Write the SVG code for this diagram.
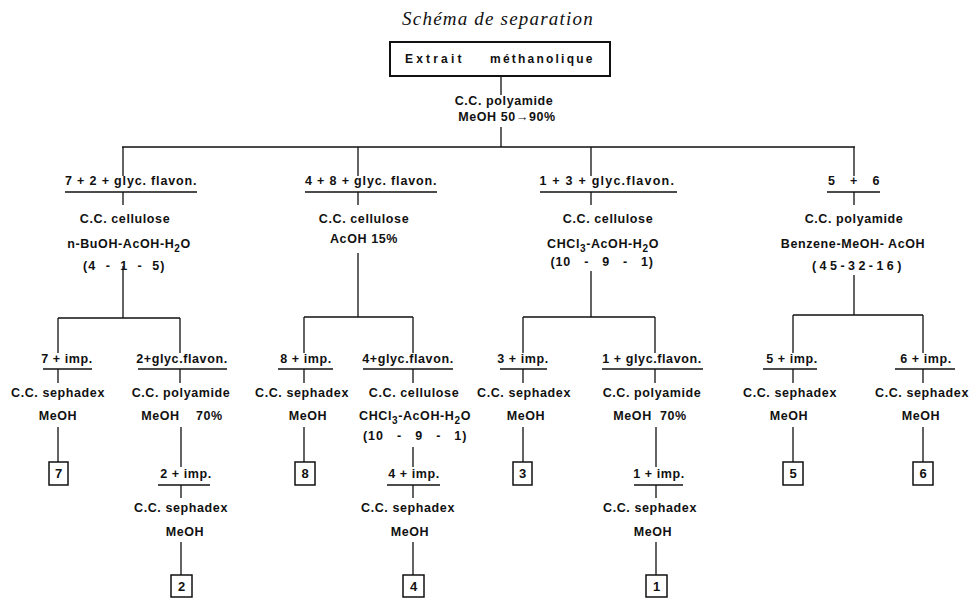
<svg xmlns="http://www.w3.org/2000/svg" width="971" height="598" viewBox="0 0 971 598">
<style>
.t{font-family:"Liberation Sans",Arial,sans-serif;font-weight:bold;font-size:12.5px;letter-spacing:0.6px;text-anchor:middle;fill:#111}
.n{font-family:"Liberation Sans",Arial,sans-serif;font-weight:bold;font-size:13px;text-anchor:middle;fill:#111}
.ttl{font-family:"Liberation Serif","Times New Roman",serif;font-style:italic;font-size:19px;letter-spacing:1.2px;text-anchor:middle;fill:#111}
.c{stroke:#111;stroke-width:1.3;fill:none}
.u{stroke:#111;stroke-width:1.6;fill:none}
.b{fill:#fff;stroke:#111;stroke-width:1.5}
</style>
<rect width="971" height="598" fill="#fff"/>
<text class="ttl" x="498" y="25">Schéma de separation</text>

<g id="connectors">
<path class="c" d="M501,76V95M501,127V147M122,147H855M123,147V176M358,147V176M591,147V176M854,147V176M123,192V205M358,192V205M591,192V205M854,192V205M123,266V318M358,253V317M591,271V317M854,275V315M58,318H180M58,318V353M180,318V353M304,317H413M304,317V353M413,317V353M523,317H655M523,317V353M655,317V353M793,315H923M793,315V353M923,315V353M58,369V383M180,369V383M304,369V383M413,369V383M523,369V383M655,369V383M793,369V383M923,369V383M58,427V462M304,427V462M523,427V462M793,427V462M923,427V462M181,427V467M413,447V467M656,427V467M181,485V498M413,485V498M656,485V498M181,542V575M413,542V575M656,542V575"/>
</g>

<g id="root">
<rect x="390" y="42" width="220" height="34" fill="#fff" stroke="#111" stroke-width="2"/>
<text class="t" style="text-anchor:start;font-size:12px" x="405" y="63" textLength="57" lengthAdjust="spacing">Extrait</text>
<text class="t" style="text-anchor:start;font-size:12px" x="490" y="63" textLength="103" lengthAdjust="spacing">méthanolique</text>
</g>

<g id="step0">
<text class="t" x="504" y="105">C.C. polyamide</text>
<text class="t" x="507" y="121">MeOH 50→90%</text>
</g>

<g id="frac-72">
<text class="t" x="131" y="185" textLength="132" lengthAdjust="spacing">7 + 2 + glyc. flavon.</text>
<line class="u" x1="65" y1="192" x2="197" y2="192"/>
<text class="t" x="125" y="223">C.C. cellulose</text>
<text class="t" x="129" y="248">n-BuOH-AcOH-H<tspan dy="4" font-size="10">2</tspan><tspan dy="-4">O</tspan></text>
<text class="t" x="124" y="270" textLength="82" lengthAdjust="spacing" xml:space="preserve">(4  -  1  -  5)</text>
</g>

<g id="frac-48">
<text class="t" x="371" y="185" textLength="132" lengthAdjust="spacing">4 + 8 + glyc. flavon.</text>
<line class="u" x1="305" y1="192" x2="437" y2="192"/>
<text class="t" x="364" y="223">C.C. cellulose</text>
<text class="t" x="364" y="243">AcOH 15%</text>
</g>

<g id="frac-13">
<text class="t" x="607" y="185" textLength="135" lengthAdjust="spacing">1 + 3 + glyc.flavon.</text>
<line class="u" x1="540" y1="192" x2="677" y2="192"/>
<text class="t" x="608" y="223">C.C. cellulose</text>
<text class="t" x="603" y="248">CHCl<tspan dy="4" font-size="10">3</tspan><tspan dy="-4">-AcOH-H</tspan><tspan dy="4" font-size="10">2</tspan><tspan dy="-4">O</tspan></text>
<text class="t" x="602" y="266" textLength="103" lengthAdjust="spacing" xml:space="preserve">(10   -   9   -   1)</text>
</g>

<g id="frac-56">
<text class="t" x="854" y="185" textLength="52" lengthAdjust="spacing">5 + 6</text>
<line class="u" x1="827" y1="192" x2="880" y2="192"/>
<text class="t" x="854" y="223">C.C. polyamide</text>
<text class="t" x="853" y="248">Benzene-MeOH- AcOH</text>
<text class="t" x="857" y="270" textLength="90" lengthAdjust="spacing">(45-32-16)</text>
</g>

<g id="frac-7imp">
<text class="t" x="67" y="363">7 + imp.</text>
<line class="u" x1="43" y1="369" x2="92" y2="369"/>
<text class="t" x="58" y="397">C.C. sephadex</text>
<text class="t" x="58" y="420">MeOH</text>
</g>

<g id="frac-2glyc">
<text class="t" x="182" y="363">2+glyc.flavon.</text>
<line class="u" x1="138" y1="369" x2="227" y2="369"/>
<text class="t" x="181" y="397">C.C. polyamide</text>
<text class="t" x="182" y="420" xml:space="preserve">MeOH    70%</text>
</g>

<g id="frac-8imp">
<text class="t" x="306" y="363">8 + imp.</text>
<line class="u" x1="278" y1="369" x2="333" y2="369"/>
<text class="t" x="302" y="397">C.C. sephadex</text>
<text class="t" x="308" y="420">MeOH</text>
</g>

<g id="frac-4glyc">
<text class="t" x="408" y="363">4+glyc.flavon.</text>
<line class="u" x1="363" y1="369" x2="453" y2="369"/>
<text class="t" x="414" y="397">C.C. cellulose</text>
<text class="t" x="415" y="420">CHCl<tspan dy="4" font-size="10">3</tspan><tspan dy="-4">-AcOH-H</tspan><tspan dy="4" font-size="10">2</tspan><tspan dy="-4">O</tspan></text>
<text class="t" x="415" y="440" textLength="104" lengthAdjust="spacing" xml:space="preserve">(10   -   9   -   1)</text>
</g>

<g id="frac-3imp">
<text class="t" x="523" y="363">3 + imp.</text>
<line class="u" x1="500" y1="369" x2="547" y2="369"/>
<text class="t" x="524" y="397">C.C. sephadex</text>
<text class="t" x="526" y="420">MeOH</text>
</g>

<g id="frac-1glyc">
<text class="t" x="652" y="363">1 + glyc.flavon.</text>
<line class="u" x1="602" y1="369" x2="703" y2="369"/>
<text class="t" x="652" y="397">C.C. polyamide</text>
<text class="t" x="650" y="420" xml:space="preserve">MeOH  70%</text>
</g>

<g id="frac-5imp">
<text class="t" x="792" y="363">5 + imp.</text>
<line class="u" x1="763" y1="369" x2="817" y2="369"/>
<text class="t" x="790" y="397">C.C. sephadex</text>
<text class="t" x="789" y="420">MeOH</text>
</g>

<g id="frac-6imp">
<text class="t" x="926" y="363">6 + imp.</text>
<line class="u" x1="895" y1="369" x2="955" y2="369"/>
<text class="t" x="922" y="397">C.C. sephadex</text>
<text class="t" x="921" y="420">MeOH</text>
</g>

<g id="frac-2imp">
<text class="t" x="186" y="478">2 + imp.</text>
<line class="u" x1="158" y1="485" x2="210" y2="485"/>
<text class="t" x="181" y="512">C.C. sephadex</text>
<text class="t" x="185" y="536">MeOH</text>
</g>

<g id="frac-4imp">
<text class="t" x="414" y="478">4 + imp.</text>
<line class="u" x1="387" y1="485" x2="440" y2="485"/>
<text class="t" x="408" y="512">C.C. sephadex</text>
<text class="t" x="410" y="536">MeOH</text>
</g>

<g id="frac-1imp">
<text class="t" x="659" y="478">1 + imp.</text>
<line class="u" x1="634" y1="485" x2="683" y2="485"/>
<text class="t" x="650" y="512">C.C. sephadex</text>
<text class="t" x="653" y="536">MeOH</text>
</g>

<g id="prod-7"><rect class="b" x="49" y="462" width="19" height="23"/><text class="n" x="58.5" y="478">7</text></g>
<g id="prod-8"><rect class="b" x="295" y="462" width="20" height="23"/><text class="n" x="305" y="478">8</text></g>
<g id="prod-3"><rect class="b" x="513" y="462" width="19" height="23"/><text class="n" x="522.5" y="478">3</text></g>
<g id="prod-5"><rect class="b" x="783" y="462" width="20" height="23"/><text class="n" x="793" y="478">5</text></g>
<g id="prod-6"><rect class="b" x="913" y="462" width="20" height="23"/><text class="n" x="923" y="478">6</text></g>
<g id="prod-2"><rect class="b" x="171" y="575" width="21" height="22"/><text class="n" x="181.5" y="591">2</text></g>
<g id="prod-4"><rect class="b" x="403" y="575" width="21" height="22"/><text class="n" x="413.5" y="591">4</text></g>
<g id="prod-1"><rect class="b" x="646" y="575" width="21" height="22"/><text class="n" x="656.5" y="591">1</text></g>
</svg>
